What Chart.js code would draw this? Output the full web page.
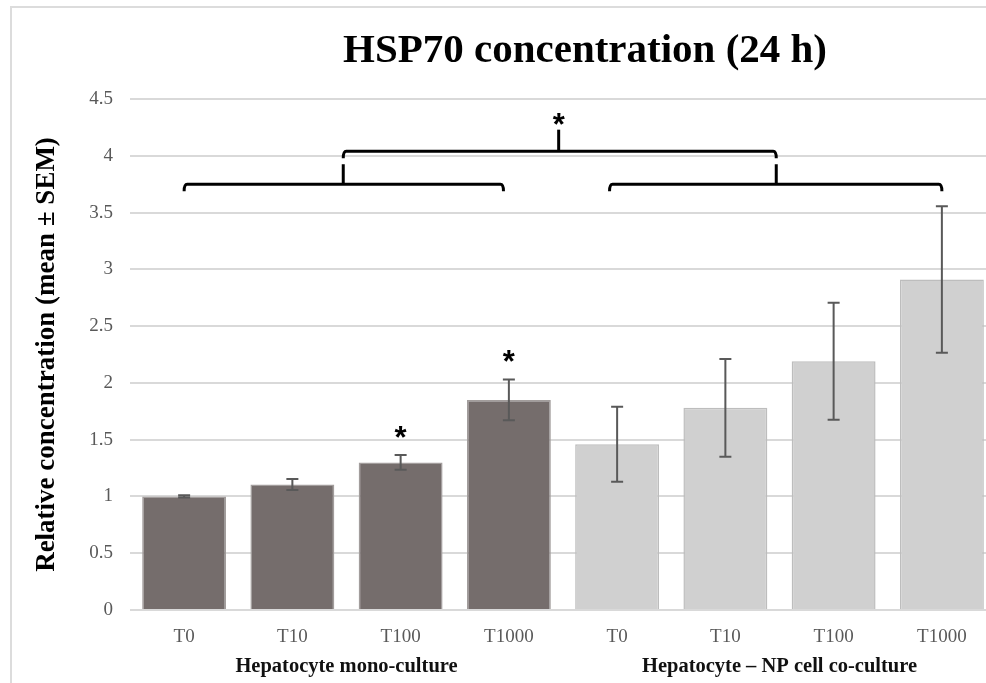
<!DOCTYPE html>
<html><head><meta charset="utf-8">
<script src="https://cdn.jsdelivr.net/npm/chart.js@4"></script>
<style>
html,body{margin:0;padding:0;background:#fff;overflow:hidden;width:986px;height:683px;}
#wrap{position:relative;width:986px;height:683px;overflow:hidden;background:#fff;}
#c{position:absolute;left:0;top:0;}
.frameTop{position:absolute;left:10px;top:6px;width:976px;height:2px;background:#dcdcdc;}
.frameLeft{position:absolute;left:10px;top:6px;width:2px;height:677px;background:#dcdcdc;}
</style></head>
<body><div id="wrap"><canvas id="c" width="1000" height="683"></canvas><div class="frameTop"></div><div class="frameLeft"></div></div>
<script>
// ---- data ----
const chartTitle = 'HSP70 concentration (24 h)';
const categories = ['T0', 'T10', 'T100', 'T1000'];
const groupLabels = ['Hepatocyte mono-culture', 'Hepatocyte \u2013 NP cell co-culture'];
const monoMeans = [1.00, 1.105, 1.30, 1.85];
const monoSEM   = [0.01, 0.048, 0.066, 0.18];
const coMeans   = [1.46, 1.78, 2.19, 2.91];
const coSEM     = [0.33, 0.43, 0.515, 0.645];
const starredBars = [2, 3];               // bars marked with * (index in full list)
const yMin = 0, yMax = 4.5, yStep = 0.5;  // tick labels 0 … 4.5
// bracket levels (in y-units) and spans (in category index units)
const bracketLower = 3.75, bracketUpper = 4.04, bracketApex = 4.23;
const lowerBrackets = [[0, 2.95, 1.47], [3.93, 7, 5.47]]; // from, to, junction
const upperBracket = [1.47, 5.47, 3.46];

// ---- derived ----
const labels = categories.concat(categories);
const means = monoMeans.concat(coMeans);
const sems = monoSEM.concat(coSEM);
const monoColor = '#756d6c', coColor = '#d0d0d0';
const fills = monoMeans.map(() => monoColor).concat(coMeans.map(() => coColor));
const borders = monoMeans.map(() => '#a29d9c').concat(coMeans.map(() => '#bdbdbd'));
const SERIF = "'Liberation Serif', 'Times New Roman', serif";

function drawStar(ctx, x, cy, size) {
  ctx.save();
  ctx.font = 'bold ' + size + "px 'Liberation Sans', Arial, sans-serif";
  ctx.textAlign = 'center';
  ctx.textBaseline = 'alphabetic';
  ctx.fillStyle = '#000';
  const m = ctx.measureText('*');
  const base = cy + (m.actualBoundingBoxAscent - m.actualBoundingBoxDescent) / 2;
  ctx.fillText('*', x, base);
  ctx.restore();
}

const titlePlugin = {
  id: 'titleText',
  afterDraw(chart) {
    const ctx = chart.ctx;
    ctx.save();
    ctx.font = 'bold 41px ' + SERIF;
    ctx.fillStyle = '#000';
    ctx.textAlign = 'center';
    ctx.textBaseline = 'middle';
    ctx.fillText(chartTitle, 585, 51);
    ctx.restore();
  }
};

const annotations = {
  id: 'annotations',
  afterDatasetsDraw(chart) {
    const ctx = chart.ctx;
    const xs = chart.scales.x, ys = chart.scales.y;
    const meta = chart.getDatasetMeta(0);
    // error bars
    ctx.save();
    ctx.strokeStyle = '#595959';
    ctx.lineWidth = 2;
    meta.data.forEach((bar, i) => {
      const x = bar.x;
      const yt = ys.getPixelForValue(means[i] + sems[i]);
      const yb = ys.getPixelForValue(means[i] - sems[i]);
      ctx.beginPath();
      ctx.moveTo(x, yt); ctx.lineTo(x, yb);
      ctx.moveTo(x - 6, yt); ctx.lineTo(x + 6, yt);
      ctx.moveTo(x - 6, yb); ctx.lineTo(x + 6, yb);
      ctx.stroke();
    });
    ctx.restore();
    // stars above bars
    starredBars.forEach(i => {
      const x = meta.data[i].x;
      const yt = ys.getPixelForValue(means[i] + sems[i]);
      drawStar(ctx, x, yt - 23, 31);
    });
    // brackets
    ctx.save();
    ctx.strokeStyle = '#000';
    ctx.lineWidth = 3;
    ctx.lineJoin = 'round';
    ctx.lineCap = 'butt';
    const hook = 7;
    const yl = ys.getPixelForValue(bracketLower);
    const yu = ys.getPixelForValue(bracketUpper);
    const ya = ys.getPixelForValue(bracketApex);
    lowerBrackets.forEach(([a, b, j]) => {
      const xa = xs.getPixelForValue(a), xb = xs.getPixelForValue(b), xj = xs.getPixelForValue(j);
      ctx.beginPath();
      ctx.moveTo(xa, yl + hook);
      ctx.quadraticCurveTo(xa, yl, xa + 3, yl);
      ctx.lineTo(xb - 3, yl);
      ctx.quadraticCurveTo(xb, yl, xb, yl + hook);
      ctx.stroke();
      ctx.beginPath();
      ctx.moveTo(xj, yl);
      ctx.lineTo(xj, yu + hook + 6);
      ctx.stroke();
    });
    {
      const [a, b, j] = upperBracket;
      const xa = xs.getPixelForValue(a), xb = xs.getPixelForValue(b), xj = xs.getPixelForValue(j);
      ctx.beginPath();
      ctx.moveTo(xa, yu + hook);
      ctx.quadraticCurveTo(xa, yu, xa + 3, yu);
      ctx.lineTo(xb - 3, yu);
      ctx.quadraticCurveTo(xb, yu, xb, yu + hook);
      ctx.stroke();
      ctx.beginPath();
      ctx.moveTo(xj, yu);
      ctx.lineTo(xj, ya);
      ctx.stroke();
      drawStar(ctx, xj, ya - 11, 31);
    }
    ctx.restore();
  }
};

new Chart(document.getElementById('c'), {
  type: 'bar',
  data: {
    labels: labels,
    datasets: [{
      data: means,
      backgroundColor: fills,
      borderColor: borders,
      borderWidth: 1.5,
      barPercentage: 0.775,
      categoryPercentage: 1.0
    }]
  },
  options: {
    responsive: false,
    animation: false,
    events: [],
    layout: { padding: { left: 0, right: 4, top: 99, bottom: 6 } },
    plugins: {
      legend: { display: false },
      tooltip: { enabled: false },
      title: { display: false }
    },
    scales: {
      y: {
        min: yMin, max: yMax,
        ticks: {
          stepSize: yStep, color: '#595959', font: { family: SERIF, size: 19 }, padding: 17,
          callback: (v) => String(Math.round(v * 10) / 10)
        },
        grid: { color: '#d9d9d9', lineWidth: 2, drawTicks: false },
        border: { display: false },
        title: {
          display: true,
          text: 'Relative concentration (mean \u00b1 SEM)',
          color: '#000',
          font: { family: SERIF, size: 27, weight: 'bold' },
          padding: { top: 31, bottom: 0 }
        },
        afterFit(scale) { scale.width = 130; }
      },
      x: {
        weight: 0,
        grid: { display: false, drawTicks: false },
        border: { display: false },
        ticks: { color: '#595959', font: { family: SERIF, size: 19 }, padding: 16, autoSkip: false, maxRotation: 0 },
        afterFit(scale) { scale.height = 40; }
      },
      x2: {
        type: 'category',
        position: 'bottom',
        weight: 1,
        labels: groupLabels,
        offset: true,
        grid: { display: false, drawTicks: false },
        border: { display: false },
        ticks: { color: '#111', font: { family: SERIF, size: 20.5, weight: 'bold' }, padding: 4, autoSkip: false, maxRotation: 0 },
        afterFit(scale) { scale.height = 27; }
      }
    }
  },
  plugins: [annotations, titlePlugin]
});
</script>
</body></html>
